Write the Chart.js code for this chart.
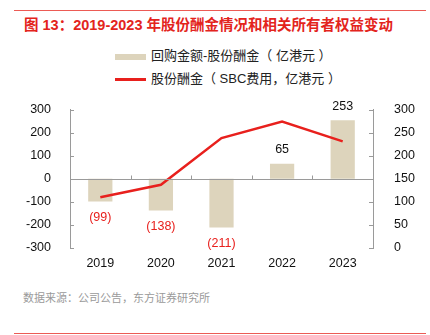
<!DOCTYPE html>
<html>
<head>
<meta charset="utf-8">
<script src="https://cdn.jsdelivr.net/npm/chart.js@4"></script>
<style>
  body { margin: 0; background: #fff; font-family: "Liberation Sans", "Noto Sans CJK SC", sans-serif; }
  #wrap { position: relative; width: 430px; height: 335px; overflow: hidden; }
  .rule { position: absolute; left: 14px; width: 412px; height: 1px; background: #ec5b55; }
  #title { position: absolute; left: 24px; top: 13px; font-size: 14.5px; font-weight: bold; color: #e3241c; white-space: nowrap; }
  .leg { position: absolute; left: 115px; font-size: 13px; color: #222; white-space: nowrap; }
  .leg i { display: inline-block; width: 31px; vertical-align: middle; margin-right: 5px; }
  #src { position: absolute; left: 23px; top: 289px; font-size: 11px; color: #9a9a9a; white-space: nowrap; }
  #box { position: absolute; left: 0; top: 89px; width: 430px; height: 186px; }
</style>
</head>
<body>
<div id="wrap">
  <div class="rule" style="top:10px"></div>
  <div id="title">图 13：2019-2023 年股份酬金情况和相关所有者权益变动</div>
  <div class="leg" style="top:45px"><i style="height:6px;background:#ddd4bc"></i>回购金额-股份酬金（ 亿港元 ）</div>
  <div class="leg" style="top:68px"><i style="height:3px;background:#e8201d"></i>股份酬金（ SBC费用，亿港元 ）</div>
  <div id="box"><canvas id="chart"></canvas></div>
  <div id="src">数据来源：公司公告，东方证券研究所</div>
  <div class="rule" style="top:333px"></div>
</div>
<script>
// ---------------------------------------------
// Data
// ---------------------------------------------

const years = ["2019", "2020", "2021", "2022", "2023"];
const buybackNet = [-99, -138, -211, 65, 253];   // 回购金额-股份酬金
const sbcExpense = [110, 137, 238, 274, 231];    // 股份酬金 (SBC)

const BAR = "#ddd4bc";
const RED = "#e8201d";
const AXIS = "#9a9a9a";
const FONT = "'Liberation Sans', 'Noto Sans CJK SC', sans-serif";

// ---------------------------------------------
// Plugins: zero line, inner ticks, bar labels
// ---------------------------------------------

const decor = {
  id: "decor",
  afterDatasetsDraw(chart) {
    const { ctx, chartArea, scales } = chart;
    const y = scales.y, y1 = scales.y1, x = scales.x;
    ctx.save();
    ctx.strokeStyle = AXIS;
    ctx.lineWidth = 1;

    // zero line with upward ticks between categories
    const y0 = Math.round(y.getPixelForValue(0)) + 0.5;
    ctx.beginPath();
    ctx.moveTo(chartArea.left, y0);
    ctx.lineTo(chartArea.right, y0);
    for (let i = 1; i < years.length; i++) {
      const px = Math.round((x.getPixelForValue(i - 1) + x.getPixelForValue(i)) / 2) + 0.5;
      ctx.moveTo(px, y0);
      ctx.lineTo(px, y0 - 4);
    }
    // inner ticks on both value axes
    y.ticks.forEach(t => {
      const py = Math.round(y.getPixelForValue(t.value)) + 0.5;
      ctx.moveTo(chartArea.left, py);
      ctx.lineTo(chartArea.left + 4, py);
    });
    y1.ticks.forEach(t => {
      const py = Math.round(y1.getPixelForValue(t.value)) + 0.5;
      ctx.moveTo(chartArea.right, py);
      ctx.lineTo(chartArea.right - 4, py);
    });
    ctx.stroke();

    // bar value labels (bar dataset is index 1)
    const meta = chart.getDatasetMeta(1);
    ctx.font = "12.5px " + FONT;
    ctx.textAlign = "center";
    ctx.textBaseline = "middle";
    meta.data.forEach((bar, i) => {
      const v = buybackNet[i];
      if (v < 0) {
        ctx.fillStyle = RED;
        ctx.fillText("(" + Math.abs(v) + ")", bar.x, bar.y + 16);
      } else {
        ctx.fillStyle = "#111";
        ctx.fillText(String(v), bar.x, bar.y - 14);
      }
    });
    ctx.restore();
  }
};

// ---------------------------------------------
// Build chart
// ---------------------------------------------

new Chart(document.getElementById("chart"), {
  data: {
    labels: years,
    datasets: [
      {
        type: "line",
        label: "股份酬金（SBC费用，亿港元）",
        data: sbcExpense,
        yAxisID: "y1",
        borderColor: RED,
        borderWidth: 2.5,
        pointRadius: 0,
        tension: 0,
        order: 0
      },
      {
        type: "bar",
        label: "回购金额-股份酬金（亿港元）",
        data: buybackNet,
        yAxisID: "y",
        backgroundColor: BAR,
        categoryPercentage: 1,
        barPercentage: 0.4,
        order: 1
      }
    ]
  },
  options: {
    responsive: true,
    maintainAspectRatio: false,
    animation: false,
    layout: { padding: { top: 4, left: 0, right: 0, bottom: 0 } },
    plugins: {
      legend: { display: false },
      tooltip: { enabled: false }
    },
    scales: {
      x: {
        grid: { display: false },
        border: { display: false },
        ticks: { color: "#111", font: { family: FONT, size: 12.5 }, padding: 0 },
        afterFit: s => { s.height = 27; }
      },
      y: {
        position: "left",
        min: -300,
        max: 300,
        grid: { display: false },
        border: { color: AXIS },
        ticks: { stepSize: 100, color: "#111", font: { family: FONT, size: 12.5 }, padding: 11 },
        afterFit: s => { s.width = 70; }
      },
      y1: {
        position: "right",
        min: 0,
        max: 300,
        grid: { display: false },
        border: { color: AXIS },
        ticks: { stepSize: 50, color: "#111", font: { family: FONT, size: 12.5 }, padding: 13 },
        afterFit: s => { s.width = 57; }
      }
    }
  },
  plugins: [decor]
});
</script>
</body>
</html>
